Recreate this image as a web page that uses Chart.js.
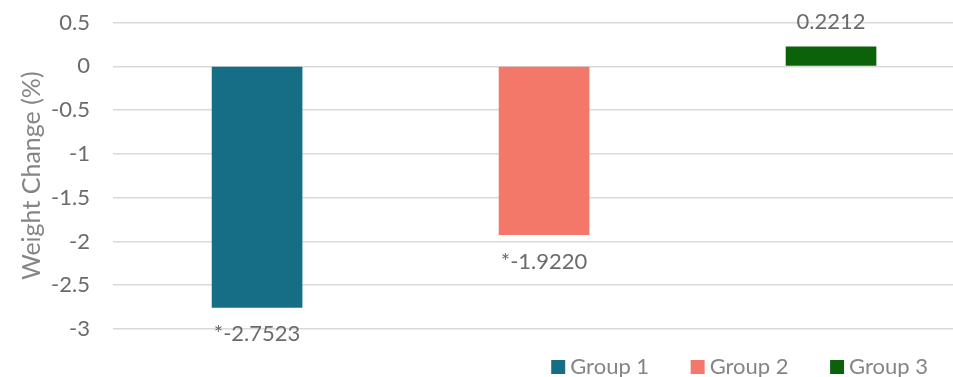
<!DOCTYPE html>
<html>
<head>
<meta charset="utf-8">
<script src="https://cdn.jsdelivr.net/npm/chart.js@4/dist/chart.umd.min.js"></script>
<style>
  html, body { margin: 0; padding: 0; background: #ffffff; }
  #wrap { width: 953px; height: 377px; position: relative; }
</style>
</head>
<body>
<div id="wrap"><canvas id="chart"></canvas></div>
<script>
// Weight change per group (%), with significance markers
const groups = ['Group 1', 'Group 2', 'Group 3'];
const values = [-2.7523, -1.9220, 0.2212];
const marks = ['*', '*', ''];
const colors = ['#166E86', '#F4786A', '#0B620B'];
const positions = [0, 1, 2];

const FONT = 'Lato, "Open Sans", sans-serif';
const GAP = '\u00a0\u00a0\u00a0\u00a0';

const datasets = groups.map((g, i) => ({
  label: g,
  data: [{ x: positions[i], y: values[i] }],
  backgroundColor: colors[i],
  borderWidth: 0,
  barThickness: 90,
  grouped: false
}));

// Value labels: below negative bars, above positive ones
const valueLabels = {
  id: 'valueLabels',
  afterDatasetsDraw(chart) {
    const ctx = chart.ctx;
    ctx.save();
    ctx.font = '22px ' + FONT;
    ctx.fillStyle = '#6b6b6b';
    ctx.textAlign = 'center';
    ctx.textBaseline = 'middle';
    chart.data.datasets.forEach((ds, i) => {
      const el = chart.getDatasetMeta(i).data[0];
      const v = values[i];
      const text = marks[i] + v.toFixed(4);
      const y = v < 0 ? el.y + 27 : el.y - 25;
      ctx.fillText(text, el.x, y);
    });
    ctx.restore();
  }
};

new Chart(document.getElementById('chart'), {
  type: 'bar',
  data: { datasets },
  options: {
    responsive: true,
    maintainAspectRatio: false,
    animation: false,
    layout: { padding: { top: 22.5, left: 0, right: 0, bottom: -11 } },
    scales: {
      x: {
        type: 'linear',
        min: -0.502,
        max: 2.425,
        offset: false,
        bounds: 'data',
        grid: { display: false },
        border: { display: false },
        ticks: { display: false },
        afterFit(scale) { scale.height = 2; }
      },
      y: {
        min: -3,
        max: 0.5,
        ticks: {
          stepSize: 0.5,
          padding: 9,
          color: '#6b6b6b',
          font: { family: FONT, size: 22 },
          callback: v => String(+Number(v).toFixed(1))
        },
        grid: {
          color: '#d9d9d9',
          lineWidth: 1.5,
          drawTicks: true,
          tickLength: 14,
          tickColor: 'rgba(0,0,0,0)'
        },
        border: { display: false },
        title: {
          display: true,
          text: 'Weight Change (%)',
          color: '#858585',
          font: { family: FONT, size: 25 },
          padding: { top: 17, bottom: 0 }
        },
        afterFit(scale) { scale.width = 113; }
      }
    },
    plugins: {
      legend: {
        position: 'bottom',
        align: 'end',
        labels: {
          usePointStyle: true,
          boxWidth: 2,
          boxHeight: 14,
          padding: 25,
          color: '#858585',
          font: { family: FONT, size: 22 },
          generateLabels(chart) {
            const n = chart.data.datasets.length;
            return chart.data.datasets.map((ds, i) => ({
              text: ds.label + (i < n - 1 ? GAP : ''),
              fillStyle: ds.backgroundColor,
              strokeStyle: ds.backgroundColor,
              lineWidth: 0,
              pointStyle: 'rect',
              fontColor: '#858585',
              datasetIndex: i,
              hidden: false
            }));
          }
        }
      },
      tooltip: { enabled: false }
    }
  },
  plugins: [valueLabels]
});
</script>
</body>
</html>
